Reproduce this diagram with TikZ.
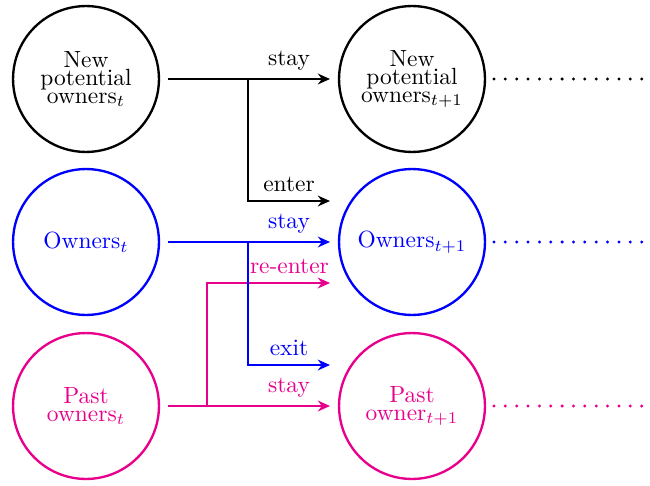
\documentclass[tikz,border=0pt]{standalone}
\usetikzlibrary{arrows.meta}
\definecolor{pinkc}{RGB}{232,0,140}
\begin{document}
\begin{tikzpicture}[x=0.427pt,y=-0.427pt,
  state/.style={draw,circle,line width=1pt,minimum size=62.3pt,inner sep=0pt,outer sep=3.85pt,
    align=center,font=\fontsize{10}{7.7}\selectfont},
  flow/.style={line width=1.25pt,-{Stealth[length=5.2pt,width=4.6pt,inset=1.7pt]}},
  lbl/.style={above,inner sep=3.3pt},
  dots/.style={line width=1.4pt,line cap=round,dash pattern=on 0pt off 4.85pt}]
\useasboundingbox (0,0) rectangle (650,485);
% nodes
\node[state] (n1) at (86,79) {New\\potential\\owners$_t$};
\node[state] (n2) at (412,79) {New\\potential\\owners$_{t+1}$};
\node[state,blue] (o1) at (86,242) {Owners$_t$};
\node[state,blue] (o2) at (412,242) {Owners$_{t+1}$};
\node[state,pinkc] (p1) at (86,406) {Past\\owners$_t$};
\node[state,pinkc] (p2) at (412,406) {Past\\owner$_{t+1}$};
% coordinates
\coordinate (bn) at (248,79);
\coordinate (en) at (330,201);
\coordinate (bo) at (248,242);
\coordinate (ex) at (330,365);
\coordinate (bp) at (207,406);
\coordinate (re) at (330,283);
\coordinate (d1) at (652,79);
\coordinate (d2) at (652,242);
\coordinate (d3) at (652,406);
% black
\draw[flow] (n1.east) -- node[lbl,pos=0.747]{stay} (n2.west);
\draw[flow] (bn) |- node[lbl,pos=0.75]{enter} (en);
% pink (under blue)
\draw[flow,pinkc] (p1.east) -- node[lbl,pos=0.747]{stay} (p2.west);
\draw[flow,pinkc] (bp) |- node[lbl,pos=0.835]{re-enter} (re);
% blue
\draw[flow,blue] (o1.east) -- node[lbl,pos=0.747]{stay} (o2.west);
\draw[flow,blue] (bo) |- node[lbl,pos=0.75]{exit} (ex);
% dotted continuations
\draw[dots] (n2.east) -- (d1);
\draw[dots,blue] (o2.east) -- (d2);
\draw[dots,pinkc] (p2.east) -- (d3);
\end{tikzpicture}
\end{document}
